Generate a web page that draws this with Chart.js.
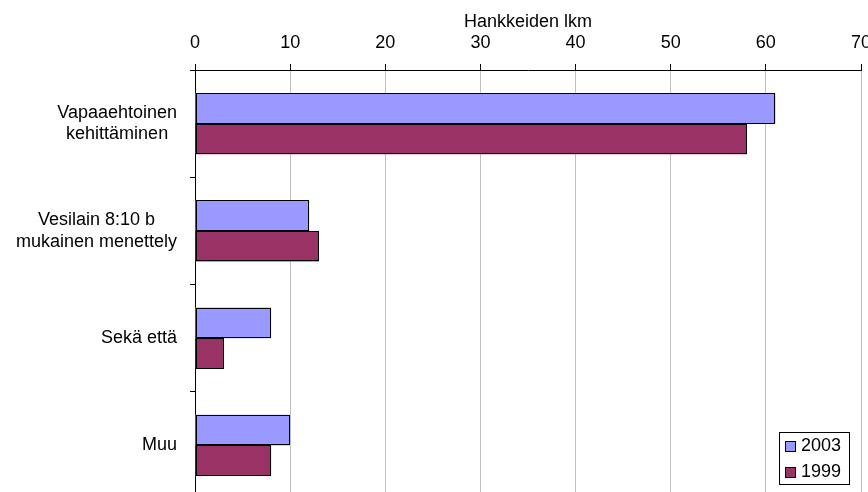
<!DOCTYPE html>
<html>
<head>
<meta charset="utf-8">
<script src="https://cdn.jsdelivr.net/npm/chart.js@4"></script>
<style>
  html, body { margin: 0; padding: 0; background: #fff; overflow: hidden; }
  canvas { display: block; }
</style>
</head>
<body>
<canvas id="c" width="868" height="499"></canvas>
<script>
// Project types (multi-line category labels)
const categories = [
  ["Vapaaehtoinen", "kehittäminen"],
  ["Vesilain 8:10 b", "mukainen menettely"],
  ["Sekä että"],
  ["Muu"]
];
const seriesNames = ["2003", "1999"];
const values2003 = [61, 12, 8, 10];
const values1999 = [58, 13, 3, 8];
const axisTitle = "Hankkeiden lkm";
const axisMin = 0;
const axisMax = 70;
const axisStep = 10;

const FONT = '"Liberation Sans", Arial, Helvetica, sans-serif';
const colors = ["#9999FF", "#993366"];

// Crisp 1px outlines around every bar, snapped to the pixel grid
const barOutlines = {
  id: "barOutlines",
  afterDatasetsDraw(chart) {
    const ctx = chart.ctx;
    ctx.save();
    ctx.strokeStyle = "#000";
    ctx.lineWidth = 1;
    chart.data.datasets.forEach((ds, i) => {
      chart.getDatasetMeta(i).data.forEach(bar => {
        const p = bar.getProps(["x", "y", "base", "height"], true);
        const x0 = Math.round(Math.min(p.base, p.x)) + 0.5;
        const x1 = Math.round(Math.max(p.base, p.x)) - 0.5;
        const y0 = Math.round(p.y - p.height / 2) + 0.5;
        const y1 = Math.round(p.y + p.height / 2) - 0.5;
        ctx.strokeRect(x0, y0, x1 - x0, y1 - y0);
      });
    });
    ctx.restore();
  }
};

// Category labels: each block right-aligned to the axis, lines centred within the block
const categoryLabels = {
  id: "categoryLabels",
  afterDraw(chart) {
    const y = chart.scales.y;
    const ctx = chart.ctx;
    ctx.save();
    ctx.font = "18px " + FONT;
    ctx.fillStyle = "#000";
    ctx.textBaseline = "middle";
    ctx.textAlign = "center";
    const right = y.right - 18;
    const lh = 21.7;
    categories.forEach((lines, i) => {
      const cy = y.getPixelForValue(i);
      const w = Math.max(...lines.map(l => ctx.measureText(l).width));
      const cx = right - w / 2;
      lines.forEach((l, k) => {
        ctx.fillText(l, cx, cy + (k - (lines.length - 1) / 2) * lh);
      });
    });
    ctx.restore();
  }
};

// Boxed legend in the lower right corner of the plot
const boxLegend = {
  id: "boxLegend",
  afterDraw(chart) {
    const a = chart.chartArea;
    const ctx = chart.ctx;
    const w = 70, h = 52;
    const x0 = Math.round(a.right - 82), y0 = Math.round(a.bottom - 67);
    ctx.save();
    ctx.fillStyle = "#fff";
    ctx.fillRect(x0, y0, w, h);
    ctx.strokeStyle = "#000";
    ctx.lineWidth = 1;
    ctx.strokeRect(x0 + 0.5, y0 + 0.5, w, h);
    ctx.font = "18px " + FONT;
    ctx.textBaseline = "middle";
    ctx.textAlign = "left";
    chart.data.datasets.forEach((ds, i) => {
      const cy = y0 + 14 + i * 26;
      ctx.fillStyle = ds.backgroundColor;
      ctx.fillRect(x0 + 6, cy - 5, 11, 11);
      ctx.strokeStyle = "#000";
      ctx.strokeRect(x0 + 6.5, cy - 4.5, 10, 10);
      ctx.fillStyle = "#000";
      ctx.fillText(ds.label, x0 + 22, cy);
    });
    ctx.restore();
  }
};

new Chart(document.getElementById("c"), {
  type: "bar",
  data: {
    labels: categories.map(c => c.join(" ")),
    datasets: [
      { label: seriesNames[0], data: values2003, backgroundColor: colors[0] },
      { label: seriesNames[1], data: values1999, backgroundColor: colors[1] }
    ]
  },
  options: {
    indexAxis: "y",
    responsive: false,
    animation: false,
    devicePixelRatio: 1,
    layout: { padding: { left: 0, right: 7, top: 0, bottom: 0 } },
    datasets: {
      bar: {
        borderWidth: 0,
        categoryPercentage: 0.57,
        barPercentage: 1.0
      }
    },
    plugins: {
      legend: { display: false },
      tooltip: { enabled: false }
    },
    scales: {
      x: {
        position: "top",
        min: axisMin,
        max: axisMax,
        ticks: {
          stepSize: axisStep,
          color: "#000",
          padding: 10,
          font: { family: FONT, size: 18 }
        },
        grid: {
          color: c => (c.tick && c.tick.value === 0 ? "#000" : "#c0c0c0"),
          tickColor: "#000",
          tickLength: 6,
          lineWidth: 1
        },
        border: { color: "#000", width: 1 },
        title: {
          display: true,
          text: axisTitle,
          color: "#000",
          font: { family: FONT, size: 18 },
          padding: { top: 11, bottom: 0 }
        },
        afterFit(s) {
          s.height = 70;
          s.paddingLeft = 0;
          s.paddingRight = 0;
        }
      },
      y: {
        position: "left",
        ticks: { display: false },
        grid: {
          offset: true,
          drawOnChartArea: false,
          color: "#000",
          tickColor: "#000",
          tickLength: 5
        },
        border: { color: "#000", width: 1 },
        afterFit(s) {
          s.width = 195;
          s.paddingTop = 0;
          s.paddingBottom = 0;
        }
      }
    }
  },
  plugins: [barOutlines, categoryLabels, boxLegend]
});
</script>
</body>
</html>
